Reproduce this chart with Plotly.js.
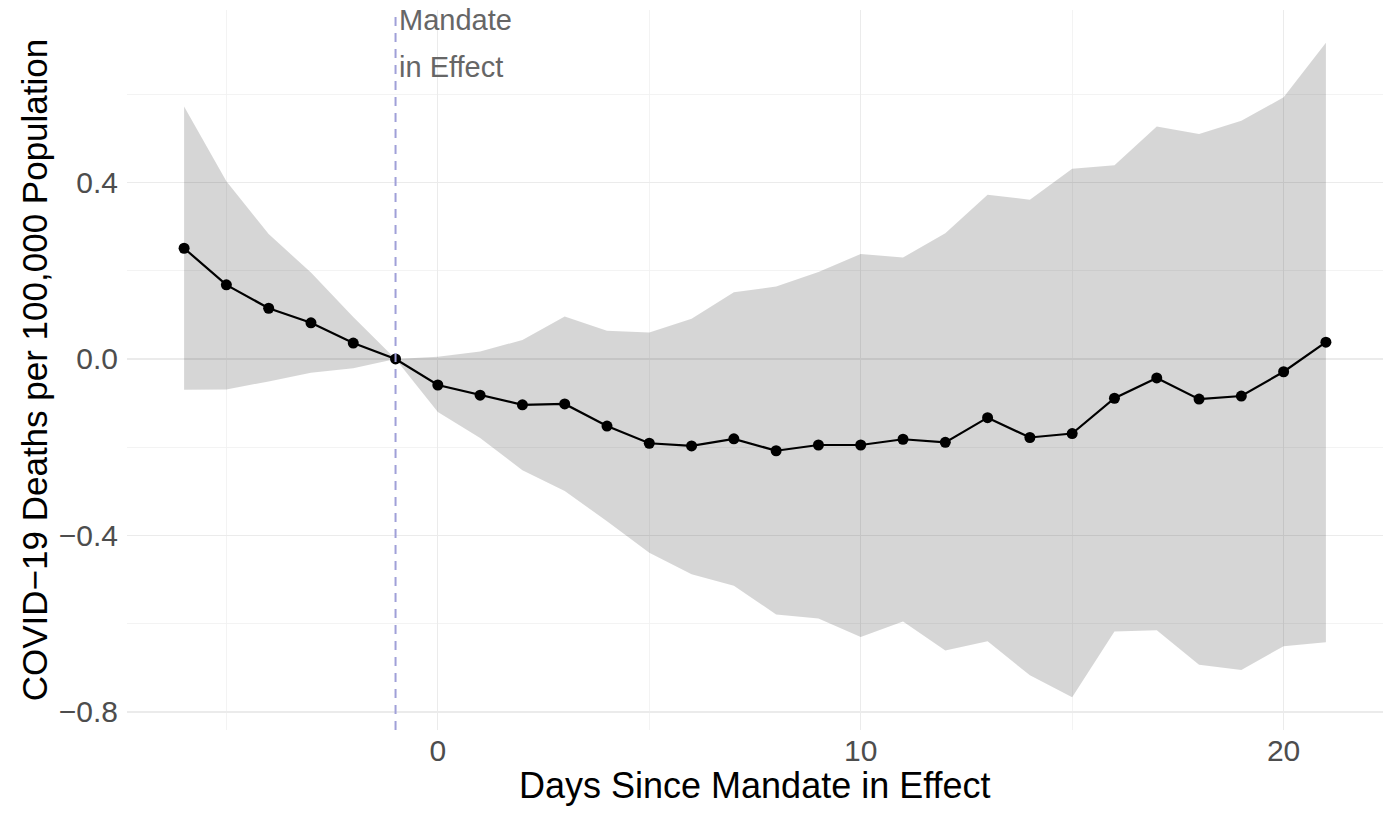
<!DOCTYPE html>
<html>
<head>
<meta charset="utf-8">
<script src="https://cdn.plot.ly/plotly-3.0.1.min.js"></script>
<style>html,body{margin:0;padding:0;background:#fff;}#chart{width:1392px;height:814px;}</style>
</head>
<body>
<div id="chart"></div>
<script>
// Days since mandate in effect
const days = [-6,-5,-4,-3,-2,-1,0,1,2,3,4,5,6,7,8,9,10,11,12,13,14,15,16,17,18,19,20,21];
// Point estimates
const estimate = [0.251,0.168,0.115,0.082,0.036,0.000,-0.059,-0.082,-0.104,-0.102,-0.152,-0.191,-0.197,-0.181,-0.208,-0.195,-0.195,-0.182,-0.189,-0.133,-0.178,-0.169,-0.089,-0.043,-0.091,-0.084,-0.029,0.038];
// Confidence band
const upper = [0.572,0.403,0.283,0.196,0.095,0.000,0.005,0.017,0.043,0.096,0.064,0.060,0.091,0.151,0.164,0.197,0.238,0.230,0.285,0.372,0.361,0.431,0.439,0.527,0.510,0.540,0.593,0.717];
const lower = [-0.070,-0.069,-0.051,-0.031,-0.021,0.000,-0.120,-0.179,-0.252,-0.299,-0.368,-0.439,-0.488,-0.514,-0.579,-0.588,-0.630,-0.595,-0.661,-0.640,-0.717,-0.767,-0.618,-0.615,-0.693,-0.705,-0.651,-0.642];
// Axis ticks
const xTickVals = [0,10,20];
const xTickText = ["0","10","20"];
const yTickVals = [-0.8,-0.4,0.0,0.4];
const yTickText = ["\u22120.8","\u22120.4","0.0","0.4"];
const mandateDay = -1;
const annotationLines = ["Mandate","in Effect"];
const annotationY = [0.768,0.662];
const xTitle = "Days Since Mandate in Effect";
const yTitle = "COVID\u221219 Deaths per 100,000 Population";

const FONT = "Liberation Sans, Arial, Helvetica, sans-serif";

const traces = [
  {x: days, y: lower, type: "scatter", mode: "lines", line: {width: 0, color: "rgba(0,0,0,0)"}, hoverinfo: "skip", showlegend: false},
  {x: days, y: upper, type: "scatter", mode: "lines", fill: "tonexty", fillcolor: "rgba(0,0,0,0.16)", line: {width: 0, color: "rgba(0,0,0,0)"}, hoverinfo: "skip", showlegend: false},
  {x: days, y: estimate, type: "scatter", mode: "lines+markers", line: {color: "#000000", width: 2.2}, marker: {color: "#000000", size: 11}, showlegend: false}
];

const annotations = annotationLines.map((t, i) => ({
  x: mandateDay, y: annotationY[i], xref: "x", yref: "y", text: t, showarrow: false,
  xanchor: "left", yanchor: "middle", xshift: 1,
  font: {size: 29, color: "#666666", family: FONT}
}));
annotations.push({
  x: 0.5, y: 0, xref: "paper", yref: "paper", text: xTitle, showarrow: false,
  xanchor: "center", yanchor: "middle", yshift: -55,
  font: {size: 36, color: "#000000", family: FONT}
});

const layout = {
  width: 1392, height: 814,
  paper_bgcolor: "#ffffff", plot_bgcolor: "#ffffff",
  margin: {l: 127, r: 9, t: 10, b: 84},
  font: {family: FONT, color: "#000000"},
  showlegend: false,
  xaxis: {
    range: [-7.35, 22.35], zeroline: false, showline: false, ticks: "",
    tickvals: xTickVals, ticktext: xTickText,
    tickfont: {size: 30, color: "#4d4d4d", family: FONT},
    ticklabelstandoff: 0,
    showgrid: true, gridcolor: "#ebebeb", gridwidth: 1.2,
    minor: {tickvals: [-5,5,15], showgrid: true, gridcolor: "#f0f0f0", gridwidth: 0.8, ticks: ""},
    automargin: false
  },
  yaxis: {
    range: [-0.841, 0.791], zeroline: false, showline: false, ticks: "",
    tickvals: yTickVals, ticktext: yTickText,
    tickfont: {size: 30, color: "#4d4d4d", family: FONT},
    ticklabelstandoff: 8,
    showgrid: true, gridcolor: "#ebebeb", gridwidth: 1.2,
    minor: {tickvals: [-0.6,-0.2,0.2,0.6], showgrid: true, gridcolor: "#f0f0f0", gridwidth: 0.8, ticks: ""},
    title: {text: yTitle, font: {size: 35, color: "#000000", family: FONT}, standoff: 0},
    automargin: false
  },
  shapes: [
    {type: "line", xref: "paper", x0: 0, x1: 1, yref: "y", y0: 0, y1: 0, layer: "below", line: {color: "#c8c8c8", width: 2, dash: "8px,8px"}},
    {type: "line", xref: "x", x0: mandateDay, x1: mandateDay, yref: "paper", y0: 0, y1: 1, layer: "above", line: {color: "#a0a0d8", width: 2, dash: "9px,7px"}}
  ],
  annotations: annotations
};

Plotly.newPlot("chart", traces, layout, {displayModeBar: false, staticPlot: true});
</script>
</body>
</html>
